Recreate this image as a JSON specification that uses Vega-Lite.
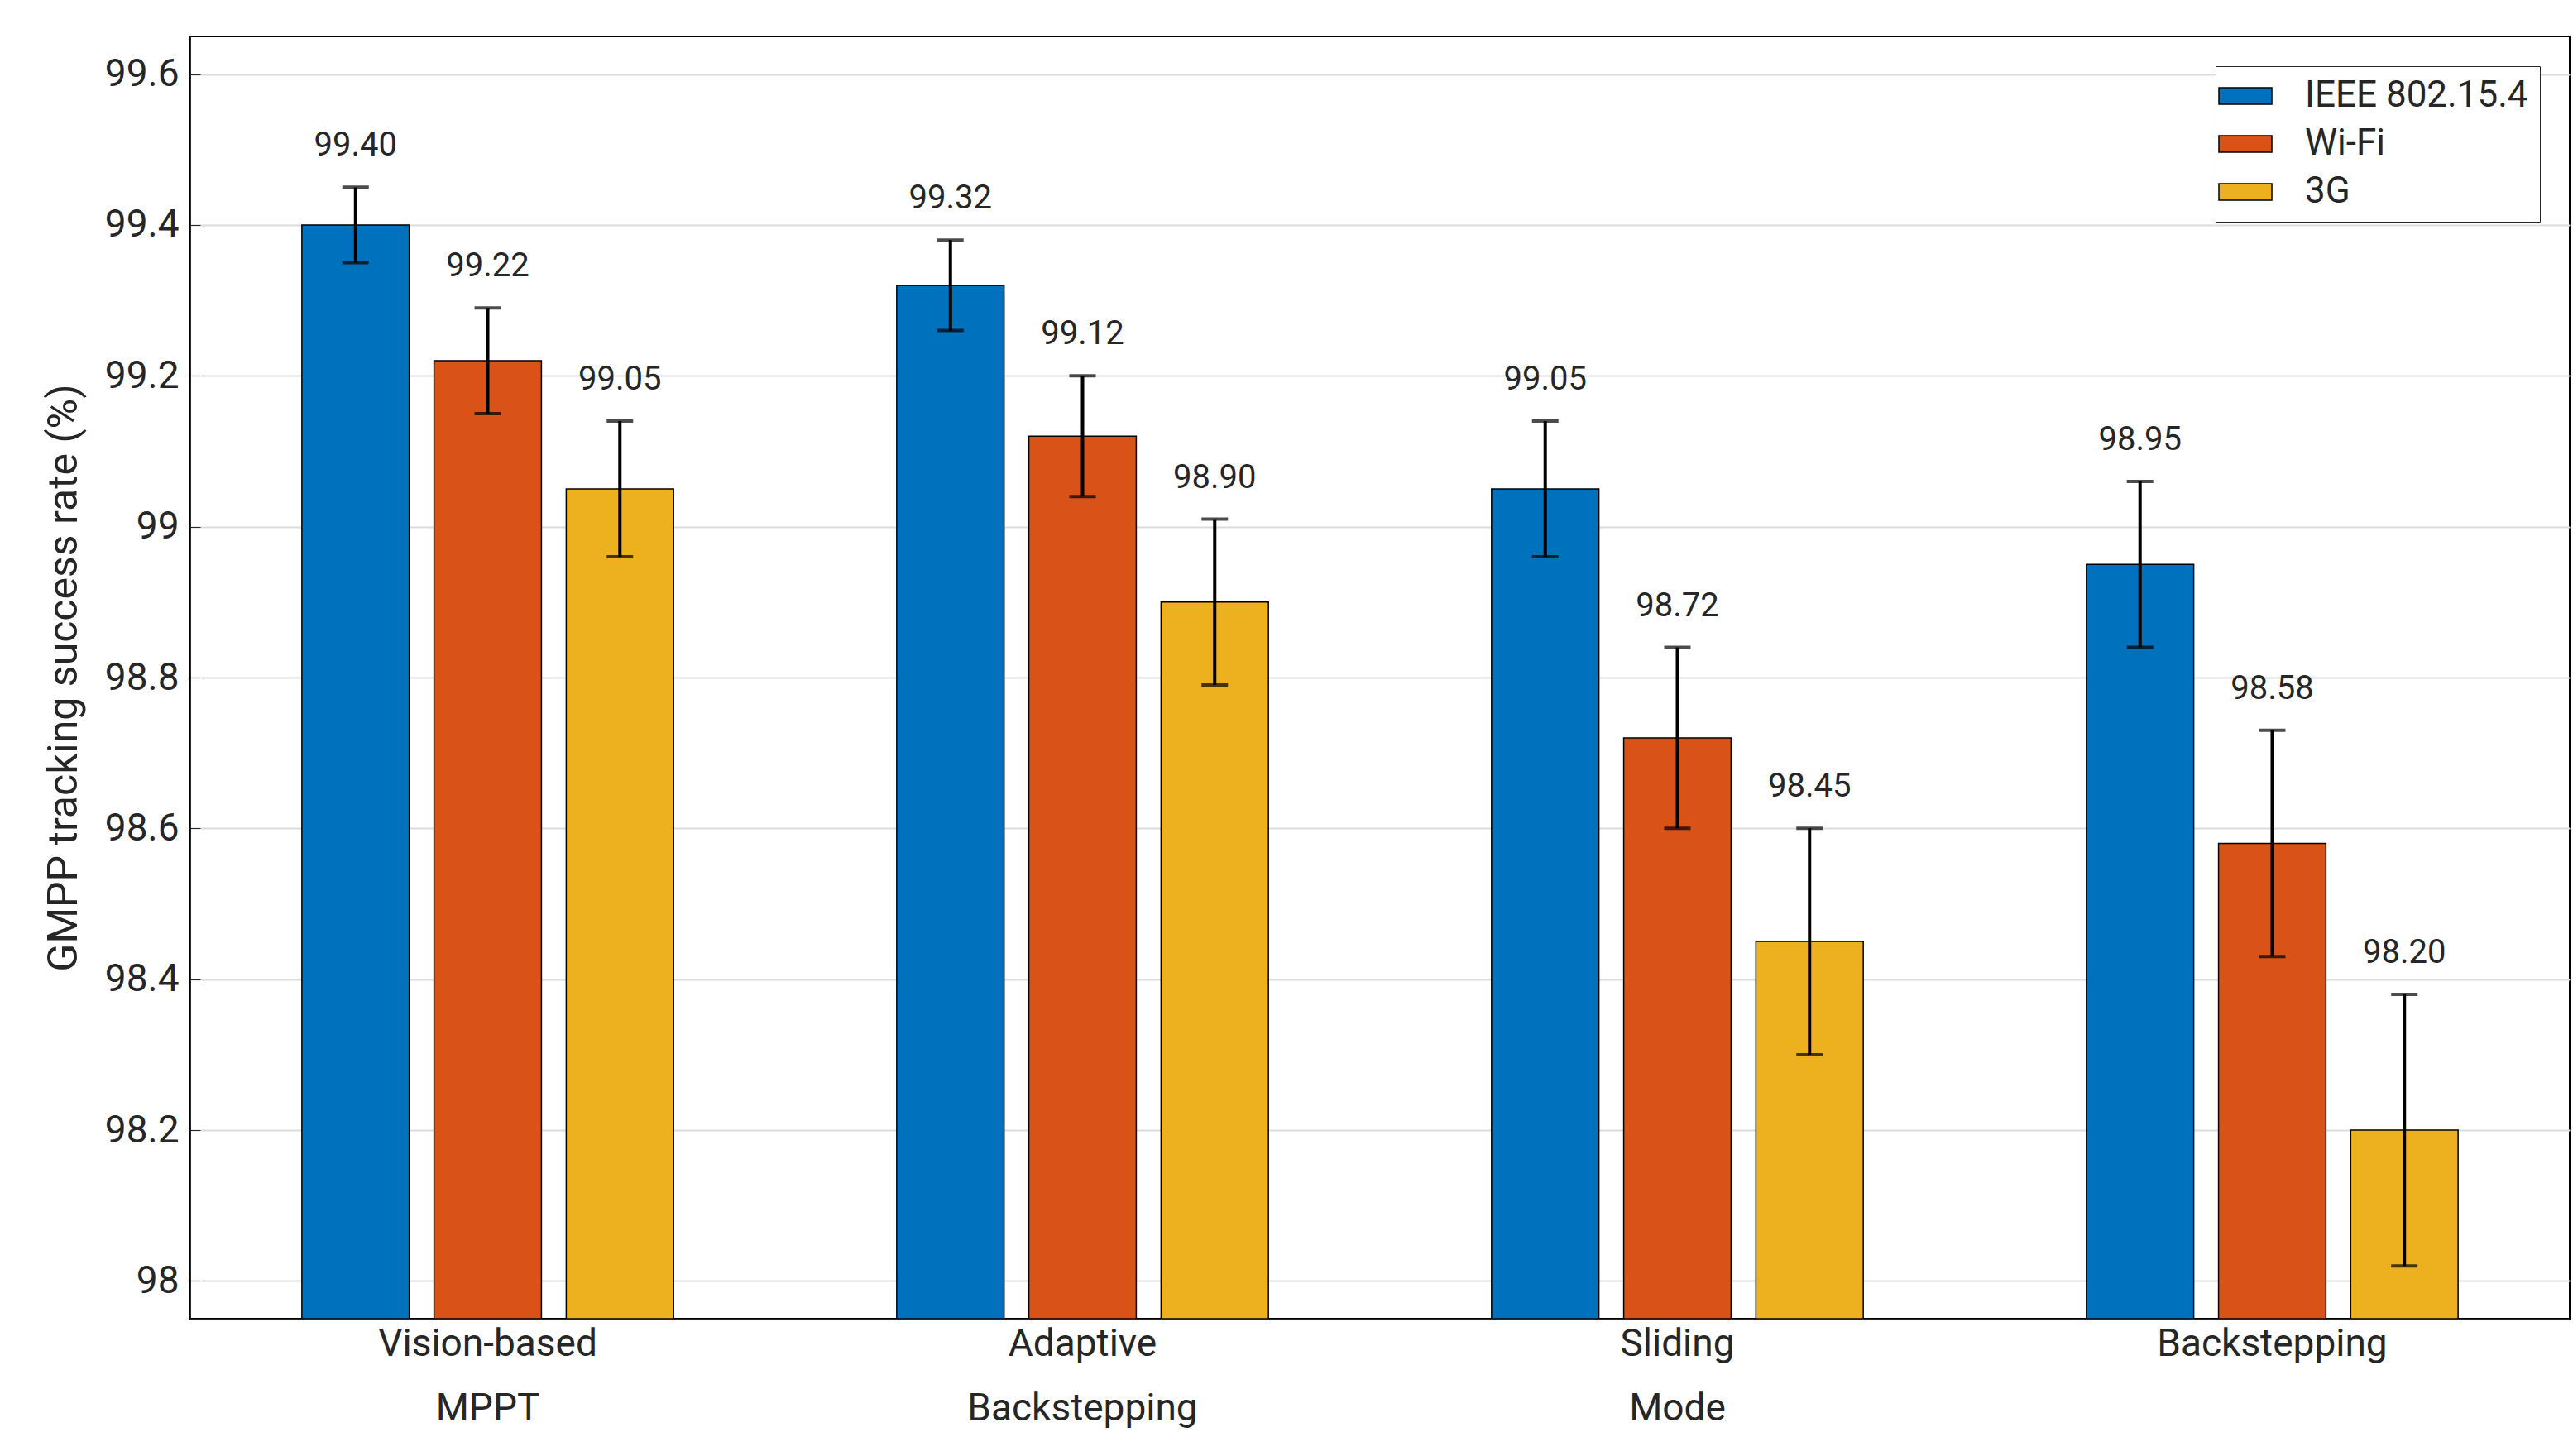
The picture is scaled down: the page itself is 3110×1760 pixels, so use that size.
{
  "$schema": "https://vega.github.io/schema/vega-lite/v6.json",
  "width": 2876, "height": 1550,
  "autosize": {"type": "none"},
  "padding": {"left": 230, "top": 44, "right": 4, "bottom": 166},
  "background": "white",
  "config": {"view": {"stroke": "black", "strokeWidth": 2}, "font": "Roboto"},
  "data": {"values": [
    {"method": "Vision-based|MPPT", "net": "IEEE 802.15.4", "value": 99.40, "lo": 99.35, "hi": 99.45},
    {"method": "Vision-based|MPPT", "net": "Wi-Fi", "value": 99.22, "lo": 99.15, "hi": 99.29},
    {"method": "Vision-based|MPPT", "net": "3G", "value": 99.05, "lo": 98.96, "hi": 99.14},
    {"method": "Adaptive|Backstepping", "net": "IEEE 802.15.4", "value": 99.32, "lo": 99.26, "hi": 99.38},
    {"method": "Adaptive|Backstepping", "net": "Wi-Fi", "value": 99.12, "lo": 99.04, "hi": 99.20},
    {"method": "Adaptive|Backstepping", "net": "3G", "value": 98.90, "lo": 98.79, "hi": 99.01},
    {"method": "Sliding|Mode", "net": "IEEE 802.15.4", "value": 99.05, "lo": 98.96, "hi": 99.14},
    {"method": "Sliding|Mode", "net": "Wi-Fi", "value": 98.72, "lo": 98.60, "hi": 98.84},
    {"method": "Sliding|Mode", "net": "3G", "value": 98.45, "lo": 98.30, "hi": 98.60},
    {"method": "Backstepping", "net": "IEEE 802.15.4", "value": 98.95, "lo": 98.84, "hi": 99.06},
    {"method": "Backstepping", "net": "Wi-Fi", "value": 98.58, "lo": 98.43, "hi": 98.73},
    {"method": "Backstepping", "net": "3G", "value": 98.20, "lo": 98.02, "hi": 98.38}
  ]},
  "encoding": {
    "x": {"field": "method", "type": "nominal", "sort": null,
      "scale": {"paddingInner": 0.3333, "paddingOuter": 0.1667},
      "axis": {"title": null, "labelExpr": "split(datum.label, '|')", "labelAngle": 0,
        "labelFontSize": 46, "labelColor": "#262626", "labelLineHeight": 78, "labelPadding": 20,
        "tickSize": -12, "tickColor": "#262626", "domainColor": "#262626", "labelBaseline": "top", "labelLimit": 600}},
    "xOffset": {"field": "net", "type": "nominal", "sort": ["IEEE 802.15.4", "Wi-Fi", "3G"],
      "scale": {"paddingInner": 0.1875, "paddingOuter": 0.094}}
  },
  "layer": [
    {"mark": {"type": "bar", "stroke": "black", "strokeWidth": 1.5, "clip": true},
      "encoding": {
        "y": {"field": "value", "type": "quantitative",
          "scale": {"domain": [97.95, 99.65], "zero": false, "nice": false},
          "axis": {"title": "GMPP tracking success rate (%)", "titleFontSize": 50, "titleFontWeight": "normal",
            "titleColor": "#262626", "titlePadding": 24, "values": [98, 98.2, 98.4, 98.6, 98.8, 99, 99.2, 99.4, 99.6],
            "format": ".1~f", "labelFontSize": 46, "labelColor": "#262626", "grid": true, "gridColor": "#dcdcdc",
            "gridWidth": 2, "tickSize": -12, "tickColor": "#262626", "domainColor": "#262626", "labelPadding": 26}},
        "y2": {"datum": 97.95},
        "color": {"field": "net", "type": "nominal", "sort": ["IEEE 802.15.4", "Wi-Fi", "3G"],
          "scale": {"domain": ["IEEE 802.15.4", "Wi-Fi", "3G"], "range": ["#0072BD", "#D95319", "#EDB120"]},
          "legend": {"title": null, "orient": "top-right", "offset": 36, "labelFontSize": 44, "labelColor": "#262626",
            "labelLimit": 600, "symbolType": "M-1.6,-0.5H1.6V0.5H-1.6Z", "symbolSize": 1600, "symbolStrokeColor": "black",
            "symbolStrokeWidth": 1.5, "rowPadding": 14, "padding": 14, "strokeColor": "#262626",
            "fillColor": "white", "labelOffset": 50}}
      }},
    {"mark": {"type": "rule", "color": "black", "strokeWidth": 4},
      "encoding": {"y": {"field": "lo", "type": "quantitative"}, "y2": {"field": "hi"}}},
    {"mark": {"type": "tick", "color": "black", "thickness": 4, "size": 32},
      "encoding": {"y": {"field": "lo", "type": "quantitative"}}},
    {"mark": {"type": "tick", "color": "black", "thickness": 4, "size": 32},
      "encoding": {"y": {"field": "hi", "type": "quantitative"}}},
    {"mark": {"type": "text", "fontSize": 40, "color": "#262626", "dy": -30, "baseline": "bottom"},
      "encoding": {"y": {"field": "hi", "type": "quantitative"}, "text": {"field": "value", "type": "quantitative", "format": ".2f"}}}
  ]
}
